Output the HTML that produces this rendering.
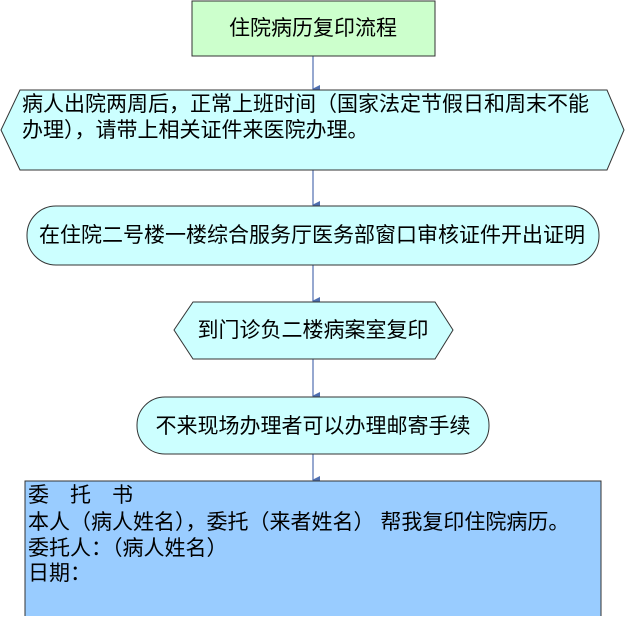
<!DOCTYPE html>
<html><head><meta charset="utf-8"><style>
body{margin:0;background:#fff;}
svg text{font-family:"Liberation Sans","Noto Sans CJK SC",sans-serif;fill:#000;}
</style></head><body>
<svg width="625" height="616" viewBox="0 0 625 616" xmlns="http://www.w3.org/2000/svg">
<defs><marker id="a" markerWidth="8" markerHeight="8" refX="4" refY="7" orient="auto" markerUnits="userSpaceOnUse"><path d="M0,0 L8,0 L4,8 Z" fill="#4f6fb0"/></marker></defs>
<g stroke="#4f6fb0" stroke-width="1.2" marker-end="url(#a)">
<line x1="313" y1="56" x2="313" y2="89"/>
<line x1="313" y1="170" x2="313" y2="205"/>
<line x1="313" y1="265" x2="313" y2="301"/>
<line x1="313" y1="359" x2="313" y2="396"/>
<line x1="313" y1="454" x2="313" y2="480"/>
</g>
<rect x="192" y="1" width="243" height="55" fill="#ccffcc" stroke="#333" stroke-width="1"/>
<text x="313" y="35" font-size="21" text-anchor="middle">住院病历复印流程</text>
<polygon points="20,90 607,90 624,130 607,170 20,170 1,130" fill="#ccffff" stroke="#333"/>
<text x="22" y="111" font-size="21">病人出院两周后，正常上班时间（国家法定节假日和周末不能</text>
<text x="22" y="137" font-size="21">办理），请带上相关证件来医院办理。</text>
<rect x="27" y="206" width="572" height="59" rx="29" fill="#ccffff" stroke="#333"/>
<text x="312" y="242" font-size="21" text-anchor="middle">在住院二号楼一楼综合服务厅医务部窗口审核证件开出证明</text>
<polygon points="193,302 435,302 453,330 435,359 193,359 174,330" fill="#ccffff" stroke="#333"/>
<text x="313" y="337" font-size="21" text-anchor="middle">到门诊负二楼病案室复印</text>
<rect x="137" y="397" width="352" height="57" rx="28" fill="#ccffff" stroke="#333"/>
<text x="313" y="433" font-size="21" text-anchor="middle">不来现场办理者可以办理邮寄手续</text>
<rect x="25" y="481" width="576" height="140" fill="#99ccff" stroke="#333"/>
<g font-size="21">
<text x="28" y="502">委　托　书</text>
<text x="28" y="529">本人（病人姓名），委托（来者姓名） 帮我复印住院病历。</text>
<text x="28" y="555">委托人：（病人姓名）</text>
<text x="28" y="580">日期：</text>
</g>
</svg>
</body></html>
